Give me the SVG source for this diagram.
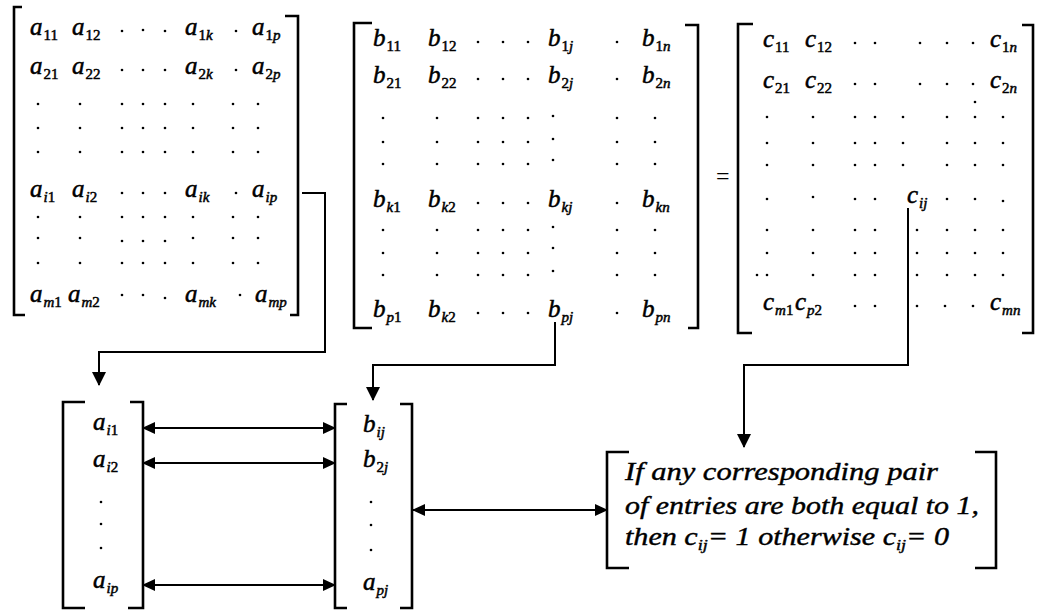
<svg xmlns="http://www.w3.org/2000/svg" width="1042" height="611" viewBox="0 0 1042 611">
<style>
.m{font-family:"Liberation Serif","Times New Roman",serif;font-style:italic;font-size:25px;fill:#000;stroke:#000;stroke-width:0.5}
.s{font-size:15px;font-style:normal}
.i{font-style:italic}
.br{fill:none;stroke:#000;stroke-width:2.6}
.cn{fill:none;stroke:#000;stroke-width:2}
.d{fill:#000}
.t{font-family:"Liberation Serif","Times New Roman",serif;font-style:italic;font-size:25px;fill:#000;stroke:#000;stroke-width:0.4}
.ts{font-size:15px}
.eq{font-family:"Liberation Serif",serif;font-size:24px;fill:#000}
</style>
<defs>
<marker id="ah" markerUnits="userSpaceOnUse" markerWidth="14" markerHeight="14" refX="13" refY="7" orient="auto-start-reverse"><path d="M0,0 L14,7 L0,14 Z" fill="#000"/></marker>
<marker id="ah2" markerUnits="userSpaceOnUse" markerWidth="13" markerHeight="12" refX="12" refY="6" orient="auto-start-reverse"><path d="M0,0 L13,6 L0,12 Z" fill="#000"/></marker>
</defs>
<rect width="1042" height="611" fill="#fff"/>

<g id="matrixA">
<path class="br" d="M22,7 H14 V315 H25"/>
<path class="br" d="M285,16 H298 V315 H290"/>
<text class="m" x="30" y="35">a<tspan class="s" dx="1" dy="5">11</tspan></text>
<text class="m" x="72" y="35">a<tspan class="s" dx="1" dy="5">12</tspan></text>
<text class="m" x="185" y="35">a<tspan class="s" dx="1" dy="5">1<tspan class="i">k</tspan></tspan></text>
<text class="m" x="252" y="35">a<tspan class="s" dx="1" dy="5">1<tspan class="i">p</tspan></tspan></text>
<text class="m" x="30" y="74">a<tspan class="s" dx="1" dy="5">21</tspan></text>
<text class="m" x="72" y="74">a<tspan class="s" dx="1" dy="5">22</tspan></text>
<text class="m" x="185" y="74">a<tspan class="s" dx="1" dy="5">2<tspan class="i">k</tspan></tspan></text>
<text class="m" x="252" y="74">a<tspan class="s" dx="1" dy="5">2<tspan class="i">p</tspan></tspan></text>
<text class="m" x="30" y="197">a<tspan class="s" dx="1" dy="5"><tspan class="i">i</tspan>1</tspan></text>
<text class="m" x="72" y="197">a<tspan class="s" dx="1" dy="5"><tspan class="i">i</tspan>2</tspan></text>
<text class="m" x="185" y="197">a<tspan class="s i" dx="1" dy="5">ik</tspan></text>
<text class="m" x="252" y="197">a<tspan class="s i" dx="1" dy="5">ip</tspan></text>
<text class="m" x="30" y="302">a<tspan class="s" dx="1" dy="5"><tspan class="i">m</tspan>1</tspan></text>
<text class="m" x="68" y="302">a<tspan class="s" dx="1" dy="5"><tspan class="i">m</tspan>2</tspan></text>
<text class="m" x="185" y="302">a<tspan class="s i" dx="1" dy="5">mk</tspan></text>
<text class="m" x="255" y="302">a<tspan class="s i" dx="1" dy="5">mp</tspan></text>
<g class="d">
<circle cx="122" cy="31" r="1.3"/><circle cx="143" cy="30" r="1.3"/><circle cx="165" cy="31" r="1.3"/><circle cx="236" cy="31" r="1.3"/>
<circle cx="122" cy="70" r="1.3"/><circle cx="143" cy="70" r="1.3"/><circle cx="165" cy="70" r="1.3"/><circle cx="236" cy="70" r="1.3"/>
<circle cx="122" cy="193" r="1.3"/><circle cx="143" cy="193" r="1.3"/><circle cx="165" cy="193" r="1.3"/><circle cx="236" cy="193" r="1.3"/>
<circle cx="122" cy="295" r="1.3"/><circle cx="143" cy="295" r="1.3"/><circle cx="165" cy="298" r="1.3"/><circle cx="240" cy="295" r="1.3"/>
<circle cx="38" cy="104" r="1.3"/><circle cx="80" cy="104" r="1.3"/><circle cx="122" cy="104" r="1.3"/><circle cx="143" cy="104" r="1.3"/><circle cx="165" cy="104" r="1.3"/><circle cx="193" cy="104" r="1.3"/><circle cx="233" cy="104" r="1.3"/><circle cx="258" cy="104" r="1.3"/>
<circle cx="38" cy="128" r="1.3"/><circle cx="80" cy="128" r="1.3"/><circle cx="122" cy="128" r="1.3"/><circle cx="143" cy="128" r="1.3"/><circle cx="165" cy="128" r="1.3"/><circle cx="193" cy="128" r="1.3"/><circle cx="233" cy="128" r="1.3"/><circle cx="258" cy="128" r="1.3"/>
<circle cx="38" cy="152" r="1.3"/><circle cx="80" cy="152" r="1.3"/><circle cx="122" cy="152" r="1.3"/><circle cx="143" cy="152" r="1.3"/><circle cx="165" cy="152" r="1.3"/><circle cx="193" cy="152" r="1.3"/><circle cx="233" cy="152" r="1.3"/><circle cx="258" cy="152" r="1.3"/>
<circle cx="38" cy="217" r="1.3"/><circle cx="80" cy="217" r="1.3"/><circle cx="122" cy="217" r="1.3"/><circle cx="143" cy="217" r="1.3"/><circle cx="165" cy="217" r="1.3"/><circle cx="193" cy="217" r="1.3"/><circle cx="233" cy="217" r="1.3"/><circle cx="258" cy="217" r="1.3"/>
<circle cx="38" cy="238" r="1.3"/><circle cx="80" cy="238" r="1.3"/><circle cx="122" cy="241" r="1.3"/><circle cx="143" cy="241" r="1.3"/><circle cx="165" cy="241" r="1.3"/><circle cx="193" cy="238" r="1.3"/><circle cx="233" cy="238" r="1.3"/><circle cx="258" cy="238" r="1.3"/>
<circle cx="38" cy="263" r="1.3"/><circle cx="80" cy="263" r="1.3"/><circle cx="122" cy="263" r="1.3"/><circle cx="143" cy="263" r="1.3"/><circle cx="165" cy="263" r="1.3"/><circle cx="193" cy="263" r="1.3"/><circle cx="233" cy="263" r="1.3"/><circle cx="258" cy="263" r="1.3"/>
</g>
</g>

<g id="matrixB">
<path class="br" d="M372,23 H354 V328 H372"/>
<path class="br" d="M685,25 H698 V328 H688"/>
<text class="m" x="373" y="46">b<tspan class="s" dx="1" dy="5">11</tspan></text>
<text class="m" x="428" y="46">b<tspan class="s" dx="1" dy="5">12</tspan></text>
<text class="m" x="548" y="46">b<tspan class="s" dx="1" dy="5">1<tspan class="i">j</tspan></tspan></text>
<text class="m" x="642" y="46">b<tspan class="s" dx="1" dy="5">1<tspan class="i">n</tspan></tspan></text>
<text class="m" x="373" y="83">b<tspan class="s" dx="1" dy="5">21</tspan></text>
<text class="m" x="428" y="83">b<tspan class="s" dx="1" dy="5">22</tspan></text>
<text class="m" x="548" y="83">b<tspan class="s" dx="1" dy="5">2<tspan class="i">j</tspan></tspan></text>
<text class="m" x="642" y="83">b<tspan class="s" dx="1" dy="5">2<tspan class="i">n</tspan></tspan></text>
<text class="m" x="373" y="207">b<tspan class="s" dx="1" dy="5"><tspan class="i">k</tspan>1</tspan></text>
<text class="m" x="428" y="207">b<tspan class="s" dx="1" dy="5"><tspan class="i">k</tspan>2</tspan></text>
<text class="m" x="548" y="207">b<tspan class="s i" dx="1" dy="5">kj</tspan></text>
<text class="m" x="642" y="207">b<tspan class="s i" dx="1" dy="5">kn</tspan></text>
<text class="m" x="373" y="317">b<tspan class="s" dx="1" dy="5"><tspan class="i">p</tspan>1</tspan></text>
<text class="m" x="428" y="317">b<tspan class="s" dx="1" dy="5"><tspan class="i">k</tspan>2</tspan></text>
<text class="m" x="548" y="317">b<tspan class="s i" dx="1" dy="5">pj</tspan></text>
<text class="m" x="642" y="317">b<tspan class="s i" dx="1" dy="5">pn</tspan></text>
<g class="d">
<circle cx="478" cy="42" r="1.3"/><circle cx="503" cy="42" r="1.3"/><circle cx="528" cy="42" r="1.3"/><circle cx="617" cy="42" r="1.3"/>
<circle cx="478" cy="79" r="1.3"/><circle cx="503" cy="79" r="1.3"/><circle cx="528" cy="79" r="1.3"/><circle cx="617" cy="79" r="1.3"/>
<circle cx="478" cy="203" r="1.3"/><circle cx="503" cy="203" r="1.3"/><circle cx="528" cy="203" r="1.3"/><circle cx="617" cy="203" r="1.3"/>
<circle cx="478" cy="313" r="1.3"/><circle cx="503" cy="313" r="1.3"/><circle cx="528" cy="313" r="1.3"/><circle cx="617" cy="313" r="1.3"/>
<circle cx="383" cy="118" r="1.3"/><circle cx="437" cy="118" r="1.3"/><circle cx="478" cy="118" r="1.3"/><circle cx="503" cy="118" r="1.3"/><circle cx="528" cy="118" r="1.3"/><circle cx="553" cy="116" r="1.3"/><circle cx="617" cy="118" r="1.3"/><circle cx="655" cy="118" r="1.3"/>
<circle cx="383" cy="142" r="1.3"/><circle cx="437" cy="142" r="1.3"/><circle cx="478" cy="142" r="1.3"/><circle cx="503" cy="142" r="1.3"/><circle cx="528" cy="142" r="1.3"/><circle cx="553" cy="139" r="1.3"/><circle cx="617" cy="142" r="1.3"/><circle cx="655" cy="142" r="1.3"/>
<circle cx="383" cy="164" r="1.3"/><circle cx="437" cy="164" r="1.3"/><circle cx="478" cy="164" r="1.3"/><circle cx="503" cy="164" r="1.3"/><circle cx="528" cy="164" r="1.3"/><circle cx="553" cy="160" r="1.3"/><circle cx="617" cy="164" r="1.3"/><circle cx="655" cy="164" r="1.3"/>
<circle cx="383" cy="230" r="1.3"/><circle cx="437" cy="230" r="1.3"/><circle cx="478" cy="230" r="1.3"/><circle cx="503" cy="230" r="1.3"/><circle cx="528" cy="230" r="1.3"/><circle cx="553" cy="227" r="1.3"/><circle cx="617" cy="230" r="1.3"/><circle cx="655" cy="230" r="1.3"/>
<circle cx="383" cy="253" r="1.3"/><circle cx="437" cy="253" r="1.3"/><circle cx="478" cy="253" r="1.3"/><circle cx="503" cy="253" r="1.3"/><circle cx="528" cy="253" r="1.3"/><circle cx="553" cy="248" r="1.3"/><circle cx="617" cy="253" r="1.3"/><circle cx="655" cy="253" r="1.3"/>
<circle cx="383" cy="275" r="1.3"/><circle cx="437" cy="275" r="1.3"/><circle cx="478" cy="275" r="1.3"/><circle cx="503" cy="275" r="1.3"/><circle cx="528" cy="275" r="1.3"/><circle cx="553" cy="271" r="1.3"/><circle cx="617" cy="275" r="1.3"/><circle cx="655" cy="275" r="1.3"/>
</g>
</g>

<g id="equals">
<text class="eq" x="716" y="184">=</text>
</g>

<g id="matrixC">
<path class="br" d="M753,24 H738 V333 H752"/>
<path class="br" d="M1022,25 H1033 V333 H1022"/>
<text class="m" x="763" y="47">c<tspan class="s" dx="1" dy="5">11</tspan></text>
<text class="m" x="805" y="47">c<tspan class="s" dx="1" dy="5">12</tspan></text>
<text class="m" x="990" y="47">c<tspan class="s" dx="1" dy="5">1<tspan class="i">n</tspan></tspan></text>
<text class="m" x="763" y="88">c<tspan class="s" dx="1" dy="5">21</tspan></text>
<text class="m" x="805" y="88">c<tspan class="s" dx="1" dy="5">22</tspan></text>
<text class="m" x="990" y="88">c<tspan class="s" dx="1" dy="5">2<tspan class="i">n</tspan></tspan></text>
<text class="m" x="907" y="203">c<tspan class="s i" dx="1" dy="5">ij</tspan></text>
<text class="m" x="763" y="310">c<tspan class="s" dx="1" dy="5"><tspan class="i">m</tspan>1</tspan></text>
<text class="m" x="795" y="310">c<tspan class="s" dx="1" dy="5"><tspan class="i">p</tspan>2</tspan></text>
<text class="m" x="990" y="310">c<tspan class="s i" dx="1" dy="5">mn</tspan></text>
<g class="d">
<circle cx="855" cy="43" r="1.3"/><circle cx="875" cy="43" r="1.3"/><circle cx="920" cy="43" r="1.3"/><circle cx="947" cy="43" r="1.3"/><circle cx="973" cy="43" r="1.3"/>
<circle cx="855" cy="84" r="1.3"/><circle cx="875" cy="84" r="1.3"/><circle cx="920" cy="84" r="1.3"/><circle cx="947" cy="84" r="1.3"/><circle cx="973" cy="84" r="1.3"/><circle cx="975" cy="102" r="1.3"/>
<circle cx="767" cy="117" r="1.3"/><circle cx="813" cy="117" r="1.3"/><circle cx="855" cy="117" r="1.3"/><circle cx="875" cy="117" r="1.3"/><circle cx="903" cy="117" r="1.3"/><circle cx="947" cy="117" r="1.3"/><circle cx="975" cy="117" r="1.3"/><circle cx="1003" cy="117" r="1.3"/>
<circle cx="767" cy="143" r="1.3"/><circle cx="813" cy="143" r="1.3"/><circle cx="855" cy="143" r="1.3"/><circle cx="875" cy="143" r="1.3"/><circle cx="903" cy="143" r="1.3"/><circle cx="947" cy="143" r="1.3"/><circle cx="975" cy="143" r="1.3"/><circle cx="1003" cy="143" r="1.3"/>
<circle cx="767" cy="165" r="1.3"/><circle cx="813" cy="165" r="1.3"/><circle cx="855" cy="165" r="1.3"/><circle cx="875" cy="165" r="1.3"/><circle cx="903" cy="165" r="1.3"/><circle cx="947" cy="165" r="1.3"/><circle cx="975" cy="165" r="1.3"/><circle cx="1003" cy="165" r="1.3"/>
<circle cx="767" cy="199" r="1.3"/><circle cx="813" cy="197" r="1.3"/><circle cx="855" cy="199" r="1.3"/><circle cx="875" cy="199" r="1.3"/><circle cx="947" cy="199" r="1.3"/><circle cx="975" cy="199" r="1.3"/><circle cx="1003" cy="201" r="1.3"/>
<circle cx="767" cy="230" r="1.3"/><circle cx="813" cy="230" r="1.3"/><circle cx="855" cy="230" r="1.3"/><circle cx="875" cy="230" r="1.3"/><circle cx="917" cy="230" r="1.3"/><circle cx="947" cy="230" r="1.3"/><circle cx="975" cy="230" r="1.3"/><circle cx="1003" cy="230" r="1.3"/>
<circle cx="767" cy="253" r="1.3"/><circle cx="813" cy="253" r="1.3"/><circle cx="855" cy="253" r="1.3"/><circle cx="875" cy="253" r="1.3"/><circle cx="917" cy="253" r="1.3"/><circle cx="947" cy="253" r="1.3"/><circle cx="975" cy="253" r="1.3"/><circle cx="1003" cy="253" r="1.3"/>
<circle cx="757" cy="275" r="1.3"/><circle cx="767" cy="275" r="1.3"/><circle cx="813" cy="275" r="1.3"/><circle cx="855" cy="275" r="1.3"/><circle cx="875" cy="275" r="1.3"/><circle cx="917" cy="275" r="1.3"/><circle cx="947" cy="275" r="1.3"/><circle cx="975" cy="275" r="1.3"/><circle cx="1003" cy="275" r="1.3"/>
<circle cx="855" cy="306" r="1.3"/><circle cx="875" cy="306" r="1.3"/><circle cx="917" cy="306" r="1.3"/><circle cx="945" cy="306" r="1.3"/><circle cx="973" cy="306" r="1.3"/>
</g>
</g>

<g id="vectorA">
<path class="br" d="M85,402 H63 V608 H85"/>
<path class="br" d="M130,402 H143 V608 H128"/>
<text class="m" x="93" y="430">a<tspan class="s" dx="1" dy="5"><tspan class="i">i</tspan>1</tspan></text>
<text class="m" x="93" y="467">a<tspan class="s" dx="1" dy="5"><tspan class="i">i</tspan>2</tspan></text>
<circle class="d" cx="101" cy="502" r="1.3"/><circle class="d" cx="101" cy="524" r="1.3"/><circle class="d" cx="101" cy="548" r="1.3"/>
<text class="m" x="93" y="588">a<tspan class="s i" dx="1" dy="5">ip</tspan></text>
</g>

<g id="vectorB">
<path class="br" d="M347,404 H335 V608 H347"/>
<path class="br" d="M400,404 H412 V608 H400"/>
<text class="m" x="363" y="432">b<tspan class="s i" dx="1" dy="5">ij</tspan></text>
<text class="m" x="363" y="467">b<tspan class="s" dx="1" dy="5">2<tspan class="i">j</tspan></tspan></text>
<circle class="d" cx="371" cy="502" r="1.3"/><circle class="d" cx="371" cy="525" r="1.3"/><circle class="d" cx="371" cy="550" r="1.3"/>
<text class="m" x="363" y="590">a<tspan class="s i" dx="1" dy="5">pj</tspan></text>
</g>

<g id="ruleBox">
<path class="br" d="M629,452 H607 V568 H629"/>
<path class="br" d="M975,452 H996 V568 H975"/>
<text class="t" x="625" y="480" textLength="313" lengthAdjust="spacingAndGlyphs">If any corresponding pair</text>
<text class="t" x="625" y="514" textLength="354" lengthAdjust="spacingAndGlyphs">of entries are both equal to 1,</text>
<text class="t" x="625" y="545" textLength="324" lengthAdjust="spacingAndGlyphs">then c<tspan class="ts" dy="5">ij</tspan><tspan dy="-5">= 1 otherwise c</tspan><tspan class="ts" dy="5">ij</tspan><tspan dy="-5">= 0</tspan></text>
</g>

<g id="connectors">
<path class="cn" d="M302,193 H325 V352 H99 V385" marker-end="url(#ah)"/>
<path class="cn" d="M555,322 V365 H373 V400" marker-end="url(#ah)"/>
<path class="cn" d="M908,208 V365 H744 V447" marker-end="url(#ah)"/>
<path class="cn" d="M143,428 H335" marker-start="url(#ah2)" marker-end="url(#ah2)"/>
<path class="cn" d="M143,463 H335" marker-start="url(#ah2)" marker-end="url(#ah2)"/>
<path class="cn" d="M143,585 H335" marker-start="url(#ah2)" marker-end="url(#ah2)"/>
<path class="cn" d="M413,510 H607" marker-start="url(#ah2)" marker-end="url(#ah2)"/>
</g>
</svg>
